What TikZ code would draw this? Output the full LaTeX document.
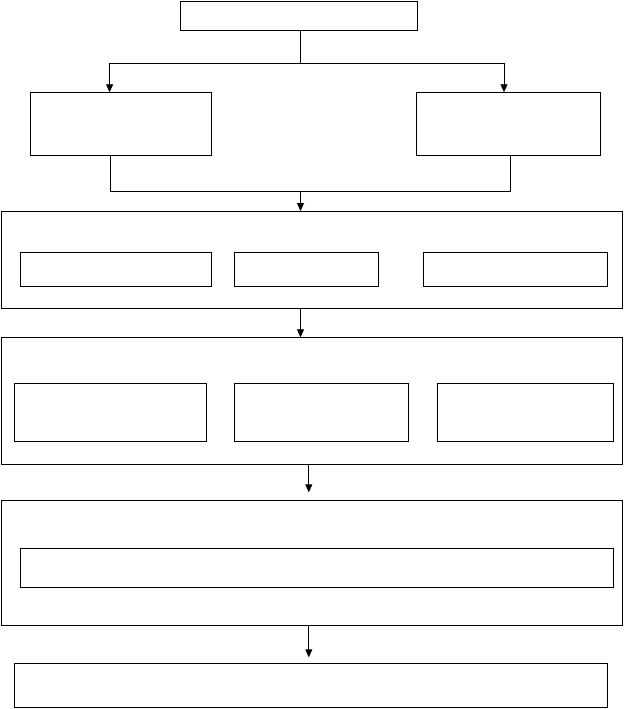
\documentclass[tikz,border=0pt]{standalone}
\usepackage{tikz}
\usetikzlibrary{arrows.meta}
\newcommand{\boxscale}{1pt}
\newcommand{\flowbox}[5]{
	\node[box, minimum width=#4*\boxscale, minimum height=#5*\boxscale] (#1) at (#2,#3) {};
}
\tikzset{
	box/.style={draw, line width=0.9pt, inner sep=0pt, outer sep=0pt},
	link/.style={line width=0.8pt},
	arrow/.style={link, -{Triangle[width=7pt,length=8pt]}}
}

\begin{document}
\begin{tikzpicture}[x=\boxscale,y=-\boxscale]
	\useasboundingbox (0,0) rectangle (624,709);

	\flowbox{top}{298.8}{15.9}{236.5}{29.7}
	\flowbox{left}{120.8}{123.8}{181.5}{63}
	\flowbox{right}{508.4}{123.8}{183.3}{63}

	\flowbox{stageA}{312.2}{259.5}{621.1}{97}
	\flowbox{partAa}{115.9}{269.5}{191.2}{34.4}
	\flowbox{partAb}{306.8}{269.5}{144.2}{34.4}
	\flowbox{partAc}{515.4}{269.5}{183.7}{34.4}

	\flowbox{stageB}{312.2}{400.8}{621.1}{127}
	\flowbox{partBa}{110.2}{412.2}{191.7}{58.3}
	\flowbox{partBb}{321.4}{412.2}{173.3}{58.3}
	\flowbox{partBc}{525.4}{412.2}{175.2}{58.3}

	\flowbox{stageC}{312.2}{562.9}{621.1}{125.7}
	\flowbox{partC}{316.7}{567.8}{592.7}{39}

	\flowbox{bottom}{310.7}{685.2}{592.7}{44.3}

	\coordinate (fork) at (300.5,63.3);
	\coordinate (forkL) at (109.6,63.3);
	\coordinate (forkR) at (504,63.3);
	\coordinate (joinL) at (110,191.3);
	\coordinate (joinR) at (510,191.3);
	\coordinate (join) at (300.5,191.3);
	\coordinate (down) at (308.8,0);

	\draw[link] (top.south -| fork) -- (fork);
	\draw[link] (forkL) -- (forkR);
	\draw[arrow] (forkL) -- (forkL |- left.north);
	\draw[arrow] (forkR) -- (forkR |- right.north);
	\draw[link] (joinL |- left.south) -- (joinL) -- (joinR) -- (joinR |- right.south);
	\draw[arrow] (join) -- (join |- stageA.north);
	\draw[arrow] (stageA.south -| join) -- (stageB.north -| join);
	\draw[arrow, shorten >=7.7pt] (stageB.south -| down) -- (stageC.north -| down);
	\draw[arrow, shorten >=5.7pt] (stageC.south -| down) -- (bottom.north -| down);
\end{tikzpicture}
\end{document}
